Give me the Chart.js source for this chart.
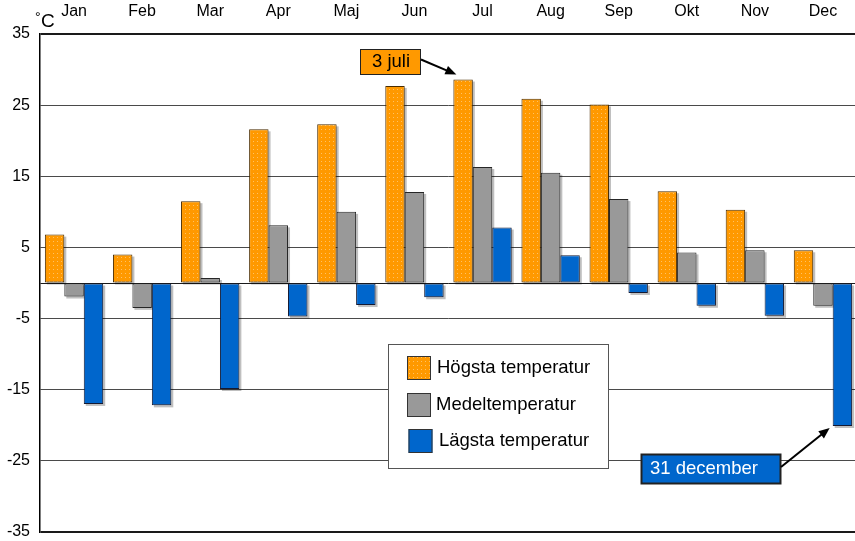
<!DOCTYPE html>
<html>
<head>
<meta charset="utf-8">
<script src="https://cdn.jsdelivr.net/npm/chart.js@4.4.1/dist/chart.umd.min.js"></script>
<style>
  html, body { margin: 0; padding: 0; background: #fff; overflow: hidden; }
  canvas { display: block; }
</style>
</head>
<body>
<canvas id="c" width="857" height="541"></canvas>
<script>
// Månadsdata
const manader = ['Jan', 'Feb', 'Mar', 'Apr', 'Maj', 'Jun', 'Jul', 'Aug', 'Sep', 'Okt', 'Nov', 'Dec'];
const hogsta = [6.8, 4.0, 11.5, 21.6, 22.3, 27.7, 28.6, 25.9, 25.1, 12.9, 10.3, 4.6];
const medel = [-1.9, -3.5, 0.7, 8.1, 10.0, 12.8, 16.3, 15.5, 11.8, 4.3, 4.6, -3.2];
const lagsta = [-17.0, -17.2, -14.9, -4.7, -3.1, -2.0, 7.8, 3.9, -1.4, -3.2, -4.6, -20.1];
const yTicks = [-35, -25, -15, -5, 0, 5, 15, 25, 35];

const FONT = '"Liberation Sans", Arial, sans-serif';

// orange med prickmönster
function orangePattern() {
    const p = document.createElement('canvas');
    p.width = 4; p.height = 4;
    const g = p.getContext('2d');
    g.fillStyle = '#FF9900';
    g.fillRect(0, 0, 4, 4);
    g.fillStyle = '#FFC166';
    g.fillRect(1, 1, 1, 1);
    return g.createPattern(p, 'repeat');
}
const orange = orangePattern();

// skugga under staplarna
const barShadow = {
    id: 'barShadow',
    beforeDatasetsDraw(chart) {
        const ctx = chart.ctx;
        ctx.save();
        ctx.fillStyle = 'rgba(0,0,0,0.25)';
        chart.data.datasets.forEach((ds, i) => {
            chart.getDatasetMeta(i).data.forEach((el) => {
                const top = Math.min(el.y, el.base);
                const h = Math.abs(el.base - el.y);
                ctx.fillRect(el.x - el.width / 2 + 2, top + 2, el.width, h);
            });
        });
        ctx.restore();
    }
};

function arrow(ctx, x1, y1, x2, y2) {
    const a = Math.atan2(y2 - y1, x2 - x1);
    const len = 11, w = 4.5;
    ctx.beginPath();
    ctx.moveTo(x1, y1);
    ctx.lineTo(x2 - Math.cos(a) * len * 0.8, y2 - Math.sin(a) * len * 0.8);
    ctx.lineWidth = 2;
    ctx.strokeStyle = '#000';
    ctx.stroke();
    ctx.beginPath();
    ctx.moveTo(x2, y2);
    ctx.lineTo(x2 - Math.cos(a) * len - Math.sin(a) * w, y2 - Math.sin(a) * len + Math.cos(a) * w);
    ctx.lineTo(x2 - Math.cos(a) * len + Math.sin(a) * w, y2 - Math.sin(a) * len - Math.cos(a) * w);
    ctx.closePath();
    ctx.fillStyle = '#000';
    ctx.fill();
}

// °C, förklaring och pilar
const extras = {
    id: 'extras',
    afterDraw(chart) {
        const ctx = chart.ctx;
        ctx.save();

        // enhet
        ctx.fillStyle = '#000';
        ctx.textBaseline = 'alphabetic';
        ctx.textAlign = 'left';
        ctx.font = '14px ' + FONT;
        ctx.fillText('°', 35, 22);
        ctx.font = '19px ' + FONT;
        ctx.fillText('C', 41, 27);

        // förklaring
        ctx.fillStyle = '#fff';
        ctx.fillRect(388.5, 344.5, 220, 124);
        ctx.strokeStyle = '#555';
        ctx.lineWidth = 1;
        ctx.strokeRect(388.5, 344.5, 220, 124);
        const rows = [
            { y: 356, sx: 407, tx: 437 },
            { y: 393, sx: 407, tx: 436 },
            { y: 429, sx: 408.5, tx: 439 }
        ];
        chart.data.datasets.forEach((ds, i) => {
            const r = rows[i];
            ctx.fillStyle = ds.backgroundColor;
            ctx.fillRect(r.sx, r.y, 24, 24);
            ctx.strokeStyle = '#333';
            ctx.lineWidth = 1;
            ctx.strokeRect(r.sx + 0.5, r.y + 0.5, 23, 23);
            ctx.fillStyle = '#000';
            ctx.font = '18.5px ' + FONT;
            ctx.textBaseline = 'middle';
            ctx.fillText(ds.label, r.tx, r.y + 12);
        });

        // 3 juli
        const jul = chart.getDatasetMeta(0).data[6];
        ctx.fillStyle = '#FF9900';
        ctx.fillRect(360, 49, 60, 25);
        ctx.strokeStyle = '#222';
        ctx.strokeRect(360.5, 49.5, 60, 25);
        ctx.fillStyle = '#000';
        ctx.font = '18.5px ' + FONT;
        ctx.textAlign = 'center';
        ctx.textBaseline = 'middle';
        ctx.fillText('3 juli', 391, 62);
        arrow(ctx, 421, 59.5, jul.x - jul.width / 2 + 3, jul.y - 5);

        // 31 december
        const dec = chart.getDatasetMeta(2).data[11];
        ctx.fillStyle = '#0066CC';
        ctx.fillRect(641, 454, 139, 29);
        ctx.strokeStyle = '#222';
        ctx.strokeRect(641.5, 454.5, 139, 29);
        ctx.fillStyle = '#fff';
        ctx.textAlign = 'left';
        ctx.fillText('31 december', 650, 469);
        arrow(ctx, 781, 467, dec.x - dec.width / 2 - 3, dec.y + 2);

        ctx.restore();
    }
};

new Chart(document.getElementById('c'), {
    type: 'bar',
    data: {
        labels: manader,
        datasets: [
            { label: 'Högsta temperatur', data: hogsta, backgroundColor: orange, borderColor: '#4a2c00' },
            { label: 'Medeltemperatur', data: medel, backgroundColor: '#999999', borderColor: '#262626' },
            { label: 'Lägsta temperatur', data: lagsta, backgroundColor: '#0066CC', borderColor: '#141a33' }
        ]
    },
    options: {
        responsive: false,
        animation: false,
        layout: { padding: 0 },
        datasets: {
            bar: {
                borderWidth: 1,
                borderSkipped: false,
                categoryPercentage: 0.857,
                barPercentage: 1.0
            }
        },
        plugins: {
            legend: { display: false },
            tooltip: { enabled: false }
        },
        scales: {
            x: {
                position: 'top',
                grid: { display: false, drawTicks: false },
                border: { display: false },
                ticks: { color: '#000', font: { family: FONT, size: 16 }, padding: 13, maxRotation: 0 },
                afterFit(scale) { scale.height = 34; }
            },
            y: {
                min: -35,
                max: 35,
                afterBuildTicks(scale) { scale.ticks = yTicks.map(v => ({ value: v })); },
                grid: {
                    drawTicks: false,
                    color(ctx) {
                        const v = ctx.tick.value;
                        return (v === 0 || v === 35 || v === -35) ? '#1a1a1a' : '#4a4a4a';
                    },
                    lineWidth(ctx) {
                        const v = ctx.tick.value;
                        return (v === 35 || v === -35) ? 2 : 1;
                    }
                },
                border: { display: true, color: '#000', width: 1.5 },
                ticks: {
                    color: '#000',
                    font: { family: FONT, size: 16 },
                    padding: 10,
                    callback(v) { return v === 0 ? '' : v; }
                },
                afterFit(scale) {
                    scale.width = 40;
                    scale.paddingTop = 0;
                    scale.paddingBottom = 9;
                }
            }
        }
    },
    plugins: [barShadow, extras]
});
</script>
</body>
</html>
